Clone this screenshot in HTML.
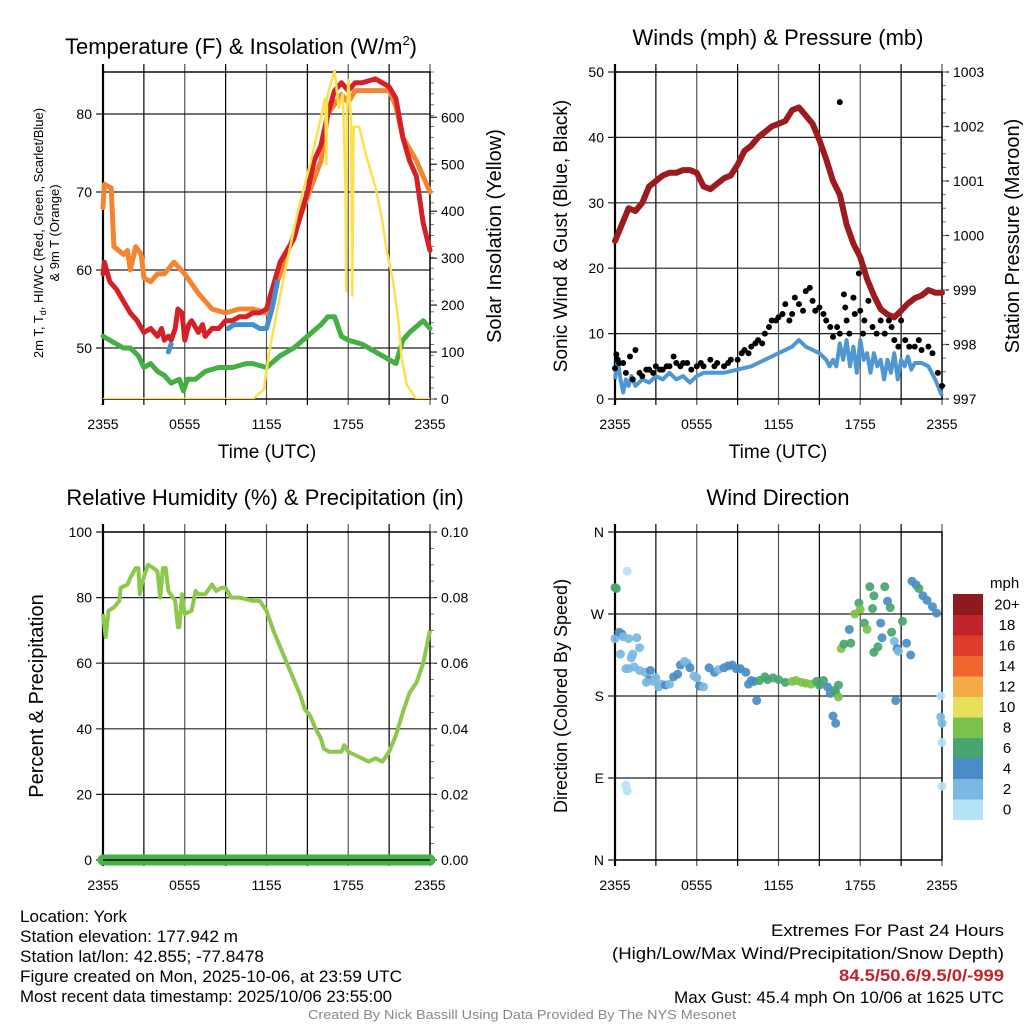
<!DOCTYPE html>
<html><head><meta charset="utf-8">
<style>
html,body{margin:0;padding:0;background:#fff;}
svg{display:block;font-family:"Liberation Sans",sans-serif;}
</style></head>
<body>
<svg id="chart" width="1024" height="1024" viewBox="0 0 1024 1024" xmlns="http://www.w3.org/2000/svg"></svg>
<script>
// ---------- DATA ----------
var tempHours=[0,0.1,0.5,1,1.5,2,2.5,3,3.5,4,4.3,4.5,4.8,5,5.3,5.5,5.8,6,6.3,6.5,7,7.3,7.5,8,8.5,9,9.5,10,10.5,11,11.5,12,12.5,13,14,14.5,15,15.5,16,16.5,17,17.5,18,18.5,19,20,20.5,21,21.5,22,22.5,23,23.5,24];
var tempRed=[59.5,61,58.5,57.5,56,54.5,53.5,52,52.5,51.5,52.5,51,51.5,51,52.5,55,54.5,51,53,53.5,52,53,51.5,52.5,52.5,53.5,53.5,54,54,54.5,54.5,55,58,61,64,67,70,74,76,80,83,84,83,84,84,84.5,84,83.5,82,77,74,72,66,62.5];
var t9Hours=[0,0.1,0.6,0.8,1.5,1.8,2,2.4,2.8,3,3.5,4,4.5,5.2,6,7,8,9,10,10.5,11,12,12.7,13.5,14.5,16,16.5,17.5,18,18.5,20,21,21.5,22,23,24];
var temp9m=[68,71,70.5,63,62,62.5,60,63,62,59,58.5,59.5,59.5,61,59.5,57,55,54.5,55,55,55,54.5,58,62,67,74,80,82.5,81.5,83,83,83,81,77,74,70];
var tdHours=[0,0.5,1,1.5,2,2.6,3,3.5,4,4.5,5,5.6,5.9,6.2,6.8,7.5,8.5,9.5,10.5,11,12,13,14,15,16,16.5,17,17.5,18,19,20,21,21.5,22,22.5,23.5,24];
var dewpoint=[51.5,51,50.5,50,50,49,47.5,48,47,46.5,45.5,46,44.5,46,46,47,47.5,47.5,48,48,47.5,49,50,51.5,53,54,54,51.5,51,50.5,49.5,48.5,48,51,52,53.5,52.5];
var hiHours=[4.8,4.9,5.0,null,9.2,9.6,10,10.5,11,11.5,12,12.4,12.8];
var heatIndex=[49.5,50,50.5,null,52.5,53,53,53,53,52.5,52.5,55,58.5];
var solHours=[0,11,11.8,12.2,13.2,14.3,15.2,16,16.3,16.4,16.45,16.5,16.9,17.0,17.3,17.6,17.8,17.85,17.9,18.0,18.2,18.3,18.4,18.8,19.3,20,20.5,20.8,21.3,21.7,21.9,22.3,23,24];
var solar=[0,0,20,100,250,400,500,600,640,500,640,650,690,700,620,650,450,230,600,680,600,220,580,580,520,450,380,320,250,160,90,30,0,0];

var windHours=[0,0.2,0.4,0.6,0.8,1,1.2,1.5,2,2.5,3,3.5,4,4.5,5,5.5,6,6.5,7,8,9,10,11,12,12.5,13,13.5,14,14.5,15,15.5,15.75,16,16.25,16.5,16.75,17,17.25,17.5,17.75,18,18.25,18.5,18.75,19,19.25,19.5,19.75,20,20.25,20.5,20.75,21,21.25,21.5,21.75,22,22.5,23,23.5,24];
var windSpeed=[3,6,3,1,3,2,3.5,2,3,2.5,3.5,3,4,3,3.5,2.5,3.5,4,4,4,4.5,5,6,7,7.5,8,9,8,7.5,7,6,5,6,5,8.5,6,9,5,8,4,9,6,7,4,7,5,6,3,6,4,7,3,6,5,6.5,4.5,5.5,5.5,5,3,0.5];
var gustHours=[0,0.1,0.2,0.3,0.6,0.8,1.1,1.3,1.5,1.8, 2,2.3,2.5,2.8,3,3.3,3.5,3.8,4,4.3, 4.5,4.8,5,5.3,5.6,6,6.3,6.5,7,7.3, 7.5,8,8.3,8.5,9,9.3,9.5,9.8,10,10.3, 10.5,10.8,11,11.3,11.5,11.8,12,12.3,12.5,12.8, 13,13.2,13.5,13.8,14,14.3,14.5,14.7,15,15.3, 15.5,15.8,16,16.3,16.5,16.5,16.8,16.9,17,17.2, 17.5,17.6,17.9,18,18.2,18.3,18.6,18.9,19.2,19.5, 19.8,20.1,20.3,20.5,20.8,21,21.3,21.6,22,22.3, 22.5,23,23.3,23.7,24];
var gust=[4.7,6.8,6,5.5,5.5,4,6.5,3,7.5,4, 3.5,4.5,4.5,4,5,4.5,4.5,5,5,6.5, 5.5,5,5.5,5.5,4.5,5,5.5,5,6,5, 5.5,5,5.5,6,6,7,7.5,7,8,8.5, 9,8.5,10,11,12,12,12.5,13,14.5,12, 13,15.5,14.5,13.5,16.5,17,15,13.5,14,13, 12,11,9.5,11,10,45.4,16,14,12,10, 15.5,13,19.2,13.5,10,12,15,11,10,12, 10,12,11,9,8,12,9,8,8,9, 7.5,8,7,4,2];
var presHours=[0,0.5,1,1.5,2,2.5,3,3.5,4,4.5,5,5.5,6,6.5,7,7.5,8,8.5,9,9.5,10,10.5,11,11.5,12,12.5,13,13.5,14,14.5,15,15.5,16,16.5,17,17.5,18,18.5,19,19.5,20,20.5,21,21.5,22,22.5,23,23.5,24];
var pressure=[999.9,1000.2,1000.5,1000.45,1000.6,1000.9,1001.0,1001.1,1001.15,1001.15,1001.2,1001.2,1001.15,1000.9,1000.85,1000.95,1001.05,1001.1,1001.3,1001.55,1001.65,1001.8,1001.9,1002.0,1002.05,1002.1,1002.3,1002.35,1002.2,1002.05,1001.75,1001.4,1001.0,1000.75,1000.2,999.85,999.6,999.2,998.9,998.65,998.55,998.5,998.62,998.75,998.85,998.9,999.0,998.95,998.95];

var rhHours=[0,0.2,0.4,0.8,1.2,1.3,1.8,2,2.4,2.6,2.7,2.9,3.3,3.7,4,4.2,4.4,4.6,4.8,5.3,5.5,5.6,5.8,6,6.5,6.8,7,7.5,8,8.3,8.7,9,9.4,10,10.5,11,11.5,12,12.5,13,13.5,14,14.5,14.8,15.2,15.6,16,16.2,16.6,17,17.5,17.7,18,18.5,19,19.5,20,20.5,21,21.5,22,22.5,23,23.5,23.8,24];
var rh=[75,68,76,77,79,83,84,86,89,89,81,85,90,89,88,80,89,89,82,79,71,71,81,75,76,82,81,81,84,82,83,83,80,80,79.5,79,79,76,70,65,60,55,50,46,44,40,37,34,33,33,33,35,33,32,31,30,31,30,33,38,45,51,54,60,66,70];
var precipHours=[0,24];
var precip=[0,0];

var dirHours=[0,0.1,0.9,0,0.3,0.5,0.6,1,1.6,1.8,1.3,1.2,0.4,0.8,1.0,1.4,1.8,2.2,2.6,2.5,2.3,2.8,3.0,3.2,3.4,3.7,4.0,4.3,4.6,4.8,5.1,5.3,5.5,5.8,6.0,6.2,6.5,6.9,7.3,7.6,8.0,8.3,8.6,8.9,9.2,9.6,10.0,9.8,10.2,10.4,10.6,11.0,11.2,11.6,12.0,12.5,13.0,13.3,13.7,14.0,14.4,14.8,15.0,15.3,15.6,15.8,16.2,16.4,16.1,16.4,16.0,16.2,16.6,16.8,17.3,17.2,17.6,17.9,18.0,18.3,18.5,18.9,18.7,19.0,19.3,19.0,19.5,19.6,19.8,20.0,20.2,20.3,20.5,20.7,20.6,20.8,21.1,21.4,21.7,21.8,22.1,22.3,22.6,22.9,23.3,23.6,23.9,23.9,24.0,24.0,24.0,0.8,0.9];
var dirDeg=[299,298,317,243,250,248,245,243,244,233,226,222,226,210,210,212,208,206,208,198,195,196,200,190,193,192,193,201,204,214,218,216,211,202,200,191,190,211,206,209,211,213,214,210,210,206,197,193,196,175,197,201,198,200,198,195,196,197,195,194,193,196,192,197,190,183,184,179,186,192,158,150,232,237,238,253,270,282,275,260,253,276,300,290,234,228,260,244,300,284,277,250,240,232,175,229,262,238,225,306,302,298,290,285,278,271,180,157,150,129,81,82,76];
var dirSpeed=[6,6,0,2,4,4,2,2,2,2,2,2,2,2,2,2,2,2,4,4,2,2,2,2,2,4,2,4,4,4,2,2,4,2,2,4,2,4,4,2,4,4,4,4,4,4,4,4,4,4,6,6,6,6,6,6,8,8,8,8,8,6,6,6,4,4,6,8,6,6,4,4,8,6,6,4,8,6,8,6,8,6,6,6,6,6,4,4,6,4,6,6,2,4,4,2,6,4,4,4,4,6,4,4,4,4,0,2,2,0,0,0,0];
var cbLabels=["0","2","4","6","8","10","12","14","16","18","20+"];
var cbColors=["#b5e2f7","#7bb9e3","#4a8dc6","#48a56f","#7cc24a","#e6df5c","#f5aa48","#ee662e","#df3c2d","#c0232a","#8f1a1d"];
var xTickLabels=["2355","0555","1155","1755","2355"];

// ---------- HELPERS ----------
var NS="http://www.w3.org/2000/svg", svg=document.getElementById("chart");
function mk(tag,attrs,parent){var e=document.createElementNS(NS,tag);for(var k in attrs)e.setAttribute(k,attrs[k]);(parent||svg).appendChild(e);return e;}
function txt(s,x,y,size,anchor,fill,extra){var t=mk("text",{x:x,y:y,"font-size":size,"text-anchor":anchor||"start",fill:fill||"#000"});if(extra)for(var k in extra)t.setAttribute(k,extra[k]);t.textContent=s;return t;}
function lin(d0,d1,r0,r1){return function(v){return r0+(v-d0)/(d1-d0)*(r1-r0);};}
function pathFrom(xs,ys,fx,fy){var d="",pen=false;for(var i=0;i<xs.length;i++){if(xs[i]===null||ys[i]===null){pen=false;continue;}d+=(pen?"L":"M")+fx(xs[i]).toFixed(1)+","+fy(ys[i]).toFixed(1);pen=true;}return d;}

function panel(name,x0,x1,y0,y1,leftTicks,leftFy,leftFmt,rightTicks,rightFy,rightFmt,grid,minorR){
  var g=mk("g",{});
  
  
  for(var i=0;i<=8;i++){var x=x0+(x1-x0)*i/8;mk("line",{x1:x,x2:x,y1:y0-8,y2:y1+6,stroke:(i%2?"#000":"#555"),"stroke-width":1.2},g);}
  leftTicks.forEach(function(v){var y=leftFy(v);mk("line",{x1:x0-7,x2:x1,y1:y,y2:y,stroke:"#222","stroke-width":1.2},g);
    var t=txt(leftFmt(v),x0-11,y+5,14,"end");g.appendChild(t);});
  if(rightTicks){rightTicks.forEach(function(v){var y=rightFy(v);mk("line",{x1:x1,x2:x1+7,y1:y,y2:y,stroke:"#222","stroke-width":1.2},g);
    var t=txt(rightFmt(v),x1+11,y+5,14,"start");g.appendChild(t);});}
  if(minorR){for(var j=0;j<=minorR;j++){var y=y1+(y0-y1)*j/minorR;mk("line",{x1:x1,x2:x1+4,y1:y,y2:y,stroke:"#777","stroke-width":1},g);}}
  mk("rect",{x:x0,y:y0,width:x1-x0,height:y1-y0,fill:"none",stroke:"#000","stroke-width":1.4},g);
  mk("line",{x1:x0,x2:x0,y1:y0-8,y2:y1+6,stroke:"#000","stroke-width":2.2},g);
  xTickLabels.forEach(function(s,i){var t=txt(s,x0+(x1-x0)*i/4,y1+30,14,"middle");});
  return g;
}

// ================= PANEL 1 =================
var P1={x0:103,x1:430,y0:72,y1:399};
var tx=lin(0,24,P1.x0,P1.x1), ty=lin(50,80,348,114), sy=lin(0,600,399,117.3);
panel("temperature",P1.x0,P1.x1,P1.y0,P1.y1,[50,60,70,80],ty,String,[0,100,200,300,400,500,600],sy,String,true,30);
var tl=txt("Temperature (F) & Insolation (W/m",65,54,22,"start");


var sup=mk("tspan",{"font-size":13,dy:-9},tl);sup.textContent="2";
var cl=mk("tspan",{"font-size":22,dy:9},tl);cl.textContent=")";
var a1=txt("Time (UTC)",267,458,19,"middle");


var yl1=txt("2m T, T",0,0,13,"middle",null,{transform:"translate(43,233) rotate(-90)"});


var sb=mk("tspan",{"font-size":9,dy:3},yl1);sb.textContent="d";
var rs=mk("tspan",{"font-size":13,dy:-3},yl1);rs.textContent=", HI/WC (Red, Green, Scarlet/Blue)";
var yl1b=txt("& 9m T (Orange)",0,0,13,"middle",null,{transform:"translate(59,233) rotate(-90)"});


var yr1=txt("Solar Insolation (Yellow)",0,0,20,"middle",null,{transform:"translate(501,236) rotate(-90)"});



var clipP1=mk("clipPath",{id:"c1"});mk("rect",{x:P1.x0,y:P1.y0-6,width:P1.x1-P1.x0+4,height:P1.y1-P1.y0+6},clipP1);
var s;
s=mk("path",{d:pathFrom(t9Hours,temp9m,tx,ty),fill:"none",stroke:"#f48530","stroke-width":5,"stroke-linejoin":"round","stroke-linecap":"round"});


s=mk("path",{d:pathFrom(tempHours,tempRed,tx,ty),fill:"none",stroke:"#d42027","stroke-width":5,"stroke-linejoin":"round","stroke-linecap":"round"});


s=mk("path",{d:pathFrom(hiHours,heatIndex,tx,ty),fill:"none",stroke:"#4390cf","stroke-width":5,"stroke-linejoin":"round","stroke-linecap":"round"});


s=mk("path",{d:pathFrom(tdHours,dewpoint,tx,ty),fill:"none",stroke:"#44b044","stroke-width":5,"stroke-linejoin":"round","stroke-linecap":"round"});


s=mk("path",{d:pathFrom(solHours,solar,tx,sy),fill:"none",stroke:"#fbe050","stroke-width":2.5,"stroke-linejoin":"round","clip-path":"url(#c1)"});



// ================= PANEL 2 =================
var P2={x0:615,x1:942,y0:72,y1:399};
var wx=lin(0,24,P2.x0,P2.x1), wy=lin(0,50,399,72), py=lin(997,1003,399,72);
panel("winds",P2.x0,P2.x1,P2.y0,P2.y1,[0,10,20,30,40,50],wy,String,[997,998,999,1000,1001,1002,1003],py,String,true,24);
var t2=txt("Winds (mph) & Pressure (mb)",778,45,22,"middle");


var a2=txt("Time (UTC)",778,458,19,"middle");


var yl2=txt("Sonic Wind & Gust (Blue, Black)",0,0,19,"middle",null,{transform:"translate(567,236) rotate(-90)"});


var yr2=txt("Station Pressure (Maroon)",0,0,20,"middle",null,{transform:"translate(1019,236) rotate(-90)"});


s=mk("path",{d:pathFrom(windHours,windSpeed,wx,wy),fill:"none",stroke:"#4f97d3","stroke-width":4,"stroke-linejoin":"round"});


s=mk("path",{d:pathFrom(presHours,pressure,wx,py),fill:"none",stroke:"#9b1b1e","stroke-width":6,"stroke-linejoin":"round","stroke-linecap":"round"});


gust.forEach(function(v,i){
  var c=mk("circle",{cx:wx(gustHours[i]),cy:wy(v),r:3,fill:"#000"});
  
  
});

// ================= PANEL 3 =================
var P3={x0:103,x1:430,y0:532,y1:860};
var rx=lin(0,24,P3.x0,P3.x1), ry=lin(0,100,860,532), pry=lin(0,0.1,860,532);
panel("humidity",P3.x0,P3.x1,P3.y0,P3.y1,[0,20,40,60,80,100],ry,String,[0,0.02,0.04,0.06,0.08,0.1],pry,function(v){return v.toFixed(2);},true,20);
var t3=txt("Relative Humidity (%) & Precipitation (in)",265,505,22,"middle");


var yl3=txt("Percent & Precipitation",0,0,20,"middle",null,{transform:"translate(43,696) rotate(-90)"});


s=mk("path",{d:pathFrom(rhHours,rh,rx,ry),fill:"none",stroke:"#8cc84b","stroke-width":4,"stroke-linejoin":"round"});


s=mk("path",{d:pathFrom(precipHours,precip,rx,pry),fill:"none",stroke:"#44b244","stroke-width":11,"stroke-linecap":"round"});


mk("line",{x1:P3.x0,x2:P3.x1,y1:860,y2:860,stroke:"#111","stroke-width":1.4});

// ================= PANEL 4 =================
var P4={x0:615,x1:942,y0:532,y1:860};
var dx=lin(0,24,P4.x0,P4.x1), dy=lin(0,360,860,532);
var dirLabelMap={0:"N",90:"E",180:"S",270:"W",360:"N"};
panel("direction",P4.x0,P4.x1,P4.y0,P4.y1,[0,90,180,270,360],dy,function(v){return dirLabelMap[v];},null,null,null,true,0);
var t4=txt("Wind Direction",778,505,22,"middle");


var yl4=txt("Direction (Colored By Speed)",0,0,18,"middle",null,{transform:"translate(567,696) rotate(-90)"});


dirDeg.forEach(function(v,i){
  var c=mk("circle",{cx:dx(dirHours[i]),cy:dy(v),r:4.5,fill:cbColors[Math.min(10,Math.floor(dirSpeed[i]/2))],"fill-opacity":0.92});
  
  
});
var cbTop=594,cbH=20.5;
var mt=txt("mph",990,588,15,"start");


cbColors.forEach(function(col,i){
  var y=cbTop+(10-i)*cbH;
  var r=mk("rect",{x:953,y:y,width:30,height:cbH+0.5,fill:col});
  
  
  var t=txt(cbLabels[i],1007,y+cbH/2+5,15,"middle");
  
  
});

// ================= FOOTER =================
var leftLines=[["Location: York",107],["Station elevation: 177.942 m",218],["Station lat/lon: 42.855; -77.8478",244],["Figure created on Mon, 2025-10-06, at 23:59 UTC",382],["Most recent data timestamp: 2025/10/06 23:55:00",372]];
leftLines.forEach(function(l,i){
  var t=txt(l[0],20,922+i*20,17,"start",null,{textLength:l[1],lengthAdjust:"spacingAndGlyphs"});
  
  
});
var rightLines=[["Extremes For Past 24 Hours",1004,936,"#000",233],["(High/Low/Max Wind/Precipitation/Snow Depth)",1004,959,"#000",392],["84.5/50.6/9.5/0/-999",1004,981,"#c8202a",165],["Max Gust: 45.4 mph On 10/06 at 1625 UTC",1004,1003,"#000",330]];
rightLines.forEach(function(l,i){
  var t=txt(l[0],l[1]-l[4],l[2],17,"start",l[3],{textLength:l[4],lengthAdjust:"spacingAndGlyphs"});
  if(i==2)t.setAttribute("font-weight","bold");
  
  
});
var cr=txt("Created By Nick Bassill Using Data Provided By The NYS Mesonet",308,1019,13,"start","#888",{textLength:428,lengthAdjust:"spacingAndGlyphs"});


</script>
</body></html>
